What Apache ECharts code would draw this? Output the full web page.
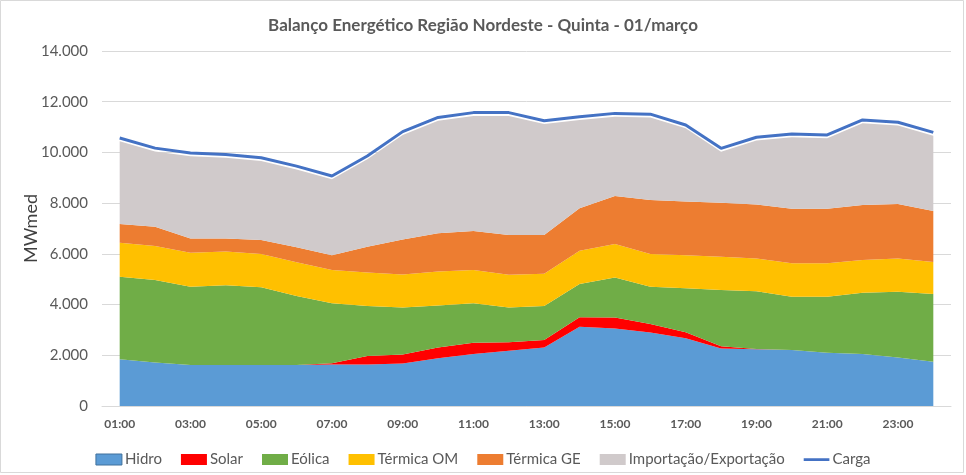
<!DOCTYPE html>
<html><head><meta charset="utf-8">
<script src="https://cdn.jsdelivr.net/npm/echarts@6/dist/echarts.min.js"></script>
<style>html,body{margin:0;padding:0;background:#fff}#c{width:966px;height:475px}</style>
</head><body><div id="c"></div>
<script>
const categories = ["01:00","02:00","03:00","04:00","05:00","06:00","07:00","08:00","09:00","10:00","11:00","12:00","13:00","14:00","15:00","16:00","17:00","18:00","19:00","20:00","21:00","22:00","23:00","24:00"];
const hidro = [1840,1720,1620,1620,1620,1620,1640,1640,1680,1880,2050,2180,2310,3130,3060,2900,2670,2270,2235,2210,2100,2050,1910,1750];
const solar = [0,0,0,0,0,0,50,330,355,430,445,330,290,370,430,330,240,90,10,0,0,0,0,0];
const eolica = [3260,3250,3080,3140,3060,2720,2360,1970,1845,1650,1555,1370,1340,1310,1580,1470,1730,2210,2285,2100,2210,2420,2600,2670];
const termicaOM = [1340,1340,1340,1330,1310,1330,1310,1320,1310,1340,1310,1300,1280,1310,1320,1290,1310,1320,1290,1320,1320,1290,1310,1260];
const termicaGE = [740,760,570,520,560,590,590,1020,1380,1510,1540,1560,1520,1680,1890,2130,2110,2130,2130,2150,2150,2170,2150,2010];
const importacao = [3260,2970,3240,3180,3110,3070,2990,3450,4120,4440,4540,4700,4380,3480,3130,3260,2890,2010,2520,2820,2780,3220,3090,2970];
const carga = [10570,10170,9980,9920,9790,9460,9070,9860,10820,11380,11570,11570,11250,11410,11540,11510,11080,10160,10600,10730,10690,11280,11190,10790];

const FONT = 'Lato';
function fmt(v){ return String(v).replace(/\B(?=(\d{3})+(?!\d))/g, '.'); }
function area(name, data, color){
  return {name, type:'line', stack:'total', data, symbol:'none', showSymbol:false,
    lineStyle:{width:0}, areaStyle:{color, opacity:1}, itemStyle:{color}, emphasis:{disabled:true}};
}
const lineIcon = 'path://M0,0H0.01V0.01H0Z M0,4.5H28V7.5H0Z M0,11.99H0.01V12H0Z';
const chart = echarts.init(document.getElementById('c'), null, {renderer:'canvas'});
chart.setOption({
  animation:false,
  backgroundColor:'#fff',
  title:{text:'Balanço Energético Região Nordeste - Quinta - 01/março', left:'center', top:12,
    textStyle:{fontFamily:FONT, fontSize:17, fontWeight:'bold', color:'#595959'}},
  grid:{left:102, right:15, top:51, bottom:69},
  legend:{top:447, left:'center', itemWidth:26, itemHeight:11, itemGap:19,
    textStyle:{fontFamily:FONT, fontSize:15, color:'#595959', padding:[0,0,0,-2]},
    data:[{name:'Hidro',icon:'rect', itemStyle:{borderColor:'#41719C', borderWidth:1}},{name:'Solar',icon:'rect'},{name:'Eólica',icon:'rect'},{name:'Térmica OM',icon:'rect'},{name:'Térmica GE',icon:'rect'},{name:'Importação/Exportação',icon:'rect'},{name:'Carga', icon:lineIcon}]},
  xAxis:{type:'category', data:categories, boundaryGap:true,
    axisLine:{lineStyle:{color:'#D9D9D9'}},
    axisTick:{interval:1, length:5, lineStyle:{color:'#D9D9D9'}},
    axisLabel:{interval:1, fontFamily:FONT, fontSize:12, fontWeight:'bold', color:'#595959', margin:12}},
  yAxis:{type:'value', min:0, max:14000, interval:2000,
    name:'MWmed', nameLocation:'middle', nameGap:62, nameMoveOverlap:false,
    nameTextStyle:{fontFamily:FONT, fontSize:18, color:'#404040'},
    axisLine:{show:false}, axisTick:{show:false},
    splitLine:{lineStyle:{color:'#D9D9D9'}},
    axisLabel:{formatter:fmt, fontFamily:FONT, fontSize:15, color:'#595959', margin:14}},
  graphic:[{type:'rect', shape:{x:0.5,y:0.5,width:963,height:472}, style:{fill:null, stroke:'#D9D9D9', lineWidth:1}, silent:true}],
  series:[
    area('Hidro', hidro, '#5B9BD5'),
    area('Solar', solar, '#FF0000'),
    area('Eólica', eolica, '#70AD47'),
    area('Térmica OM', termicaOM, '#FFC000'),
    area('Térmica GE', termicaGE, '#ED7D31'),
    area('Importação/Exportação', importacao, '#D0CACB'),
    {name:'Carga', type:'line', data:carga, symbol:'none', showSymbol:false,
      lineStyle:{width:3, color:'#4472C4'}, itemStyle:{color:'#4472C4'}, z:5}
  ]
});
</script></body></html>
